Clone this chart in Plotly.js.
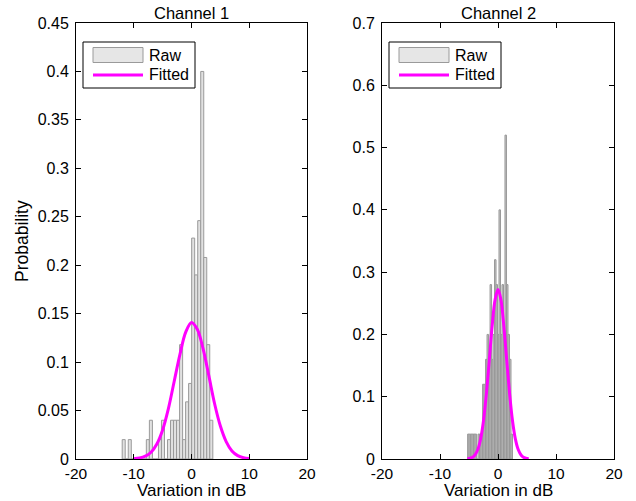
<!DOCTYPE html>
<html>
<head>
<meta charset="utf-8">
<script src="https://cdn.plot.ly/plotly-3.0.1.min.js"></script>
<style>html,body{margin:0;padding:0;background:#fff;}#chart{width:636px;height:501px;}</style>
</head>
<body>
<div id="chart"></div>
<script>
// ---------- data ----------
// Channel 1 histogram: bin centres (dB) and probability density
const ch1BinCenters = [-11.74,-11.22,-10.69,-10.17,-9.65,-9.12,-8.60,-8.08,-7.56,-7.03,
  -6.51,-5.99,-5.46,-4.94,-4.42,-3.90,-3.37,-2.85,-2.33,-1.80,
  -1.28,-0.76,-0.24,0.29,0.81,1.34,1.86,2.38,2.90,3.43];
const ch1Prob = [0.02,0,0.02,0,0,0,0,0,0.02,0.04,
  0,0,0.02,0.04,0,0.02,0.04,0.04,0.04,0.118,
  0.02,0.059,0.078,0.228,0.19,0.246,0.40,0.208,0.118,0.04];
// Channel 1 fitted curve samples
const ch1FitX = [-10,-9,-8,-7,-6,-5,-4,-3,-2,-1,0,1,2,3,4,5,6,7,8,9,10];
const ch1FitY = [0.0003,0.001,0.0029,0.007,0.0155,0.030,0.052,0.080,0.108,0.131,0.141,
  0.134,0.114,0.086,0.057,0.034,0.018,0.0083,0.0035,0.0013,0.0004];

// Channel 2 histogram
const ch2BinCenters = [-5.11,-4.85,-4.59,-4.34,-4.08,-3.82,-3.56,-3.31,-3.05,-2.79,
  -2.53,-2.27,-2.02,-1.76,-1.50,-1.24,-0.99,-0.73,-0.47,-0.21,
  0.05,0.30,0.56,0.82,1.08,1.33,1.59,1.85,2.11,2.37];
const ch2Prob = [0.04,0.04,0.04,0.04,0.04,0.04,0,0.04,0.04,0.04,
  0.12,0.12,0.16,0.20,0.16,0.28,0.16,0.20,0.32,0.28,
  0.20,0.40,0.20,0.28,0.20,0.52,0.28,0.20,0.16,0.04];
// Channel 2 fitted curve samples
const ch2FitX = [-5.3,-5,-4.5,-4,-3.5,-3,-2.5,-2,-1.5,-1,-0.5,0,0.5,1,1.5,2,2.5,3,3.5,4,4.5,5,5.3];
const ch2FitY = [0.0003,0.0007,0.0022,0.0061,0.0148,0.032,0.0615,0.105,0.159,0.214,0.256,0.272,
  0.256,0.214,0.159,0.105,0.0615,0.032,0.0148,0.0061,0.0022,0.0007,0.0003];

// ticks
const xTickVals = [-20,-10,0,10,20];
const xTickText = ["-20","-10","0","10","20"];
const y1TickVals = [0,0.05,0.1,0.15,0.2,0.25,0.3,0.35,0.4,0.45];
const y1TickText = ["0","0.05","0.1","0.15","0.2","0.25","0.3","0.35","0.4","0.45"];
const y2TickVals = [0,0.1,0.2,0.3,0.4,0.5,0.6,0.7];
const y2TickText = ["0","0.1","0.2","0.3","0.4","0.5","0.6","0.7"];

const titles = ["Channel 1","Channel 2"];
const xLabel = "Variation in dB";
const yLabel = "Probability";
const legendNames = ["Raw","Fitted"];

// ---------- layout helpers ----------
const W = 636, H = 501;
const px = v => v / W;
const py = v => 1 - v / H;
const FONT = "Liberation Sans, Arial, Helvetica, sans-serif";
const BAR_FILL = "#e1e1e1", BAR_EDGE = "#9a9a9a", FIT = "#ff00ff";

const traces = [
  {type:"bar", x:ch1BinCenters, y:ch1Prob, width:0.523, xaxis:"x", yaxis:"y",
   marker:{color:BAR_FILL, line:{color:BAR_EDGE, width:1}}, name:legendNames[0]},
  {type:"scatter", mode:"lines", x:ch1FitX, y:ch1FitY, xaxis:"x", yaxis:"y",
   line:{color:FIT, width:3, shape:"spline"}, name:legendNames[1]},
  {type:"bar", x:ch2BinCenters, y:ch2Prob, width:0.258, xaxis:"x2", yaxis:"y2",
   marker:{color:"#c4c4c4", line:{color:"#999999", width:1}}, name:legendNames[0]},
  {type:"scatter", mode:"lines", x:ch2FitX, y:ch2FitY, xaxis:"x2", yaxis:"y2",
   line:{color:FIT, width:3, shape:"spline"}, name:legendNames[1]}
];

function axisStyle(extra){
  return Object.assign({
    showline:true, linecolor:"#000", linewidth:1, mirror:"ticks",
    ticks:"inside", ticklen:5, tickcolor:"#000", tickwidth:1,
    showgrid:false, zeroline:false, fixedrange:true, automargin:false,
    tickfont:{family:FONT, size:16, color:"#000"}, tickmode:"array"
  }, extra);
}

const axL = {l:76, r:307}, axR = {l:382, r:614};
const yTop = 23, yBot = 459;

const shapes = [], annotations = [];
function legendAt(left){
  const x0 = left + 7, x1 = left + 119, y0 = 42, y1 = 88;
  shapes.push({type:"rect", xref:"paper", yref:"paper", x0:px(x0), x1:px(x1), y0:py(y1), y1:py(y0),
    line:{color:"#000", width:1}, fillcolor:"#fff", layer:"above"});
  shapes.push({type:"rect", xref:"paper", yref:"paper", x0:px(x0+10), x1:px(x0+60), y0:py(62.5), y1:py(47.5),
    line:{color:BAR_EDGE, width:1}, fillcolor:"#e6e6e6", layer:"above"});
  shapes.push({type:"line", xref:"paper", yref:"paper", x0:px(x0+10), x1:px(x0+60), y0:py(75), y1:py(75),
    line:{color:FIT, width:3}, layer:"above"});
  annotations.push({xref:"paper", yref:"paper", x:px(x0+64), y:py(55), xanchor:"left", yanchor:"middle",
    text:legendNames[0], showarrow:false, font:{family:FONT, size:16, color:"#000"}});
  annotations.push({xref:"paper", yref:"paper", x:px(x0+64), y:py(75), xanchor:"left", yanchor:"middle",
    text:legendNames[1], showarrow:false, font:{family:FONT, size:16, color:"#000"}});
}
legendAt(axL.l);
legendAt(axR.l);

[axL, axR].forEach((a, i) => {
  annotations.push({xref:"paper", yref:"paper", x:px((a.l+a.r)/2), y:py(13), xanchor:"center", yanchor:"middle",
    text:titles[i], showarrow:false, font:{family:FONT, size:16.5, color:"#000"}});
  annotations.push({xref:"paper", yref:"paper", x:px((a.l+a.r)/2), y:py(490), xanchor:"center", yanchor:"middle",
    text:xLabel, showarrow:false, font:{family:FONT, size:17, color:"#000"}});
});
annotations.push({xref:"paper", yref:"paper", x:px(22), y:py((yTop+yBot)/2), xanchor:"center", yanchor:"middle",
  textangle:-90, text:yLabel, showarrow:false, font:{family:FONT, size:17.5, color:"#000"}});

const xTickFont = {family:FONT, size:15.5, color:"#000"};
const layout = {
  width:W, height:H, margin:{l:0, r:0, t:0, b:0},
  paper_bgcolor:"#fff", plot_bgcolor:"#fff",
  showlegend:false, barmode:"overlay", bargap:0,
  xaxis: axisStyle({domain:[px(axL.l), px(axL.r)], range:[-20,20], tickvals:xTickVals, ticktext:xTickText, anchor:"y", tickfont:xTickFont}),
  yaxis: axisStyle({domain:[py(yBot), py(yTop)], range:[0,0.45], tickvals:y1TickVals, ticktext:y1TickText, anchor:"x", ticklabelstandoff:3}),
  xaxis2: axisStyle({domain:[px(axR.l), px(axR.r)], range:[-20,20], tickvals:xTickVals, ticktext:xTickText, anchor:"y2", tickfont:xTickFont}),
  yaxis2: axisStyle({domain:[py(yBot), py(yTop)], range:[0,0.7], tickvals:y2TickVals, ticktext:y2TickText, anchor:"x2", ticklabelstandoff:3}),
  shapes: shapes, annotations: annotations
};

Plotly.newPlot("chart", traces, layout, {displayModeBar:false, staticPlot:true});
</script>
</body>
</html>
